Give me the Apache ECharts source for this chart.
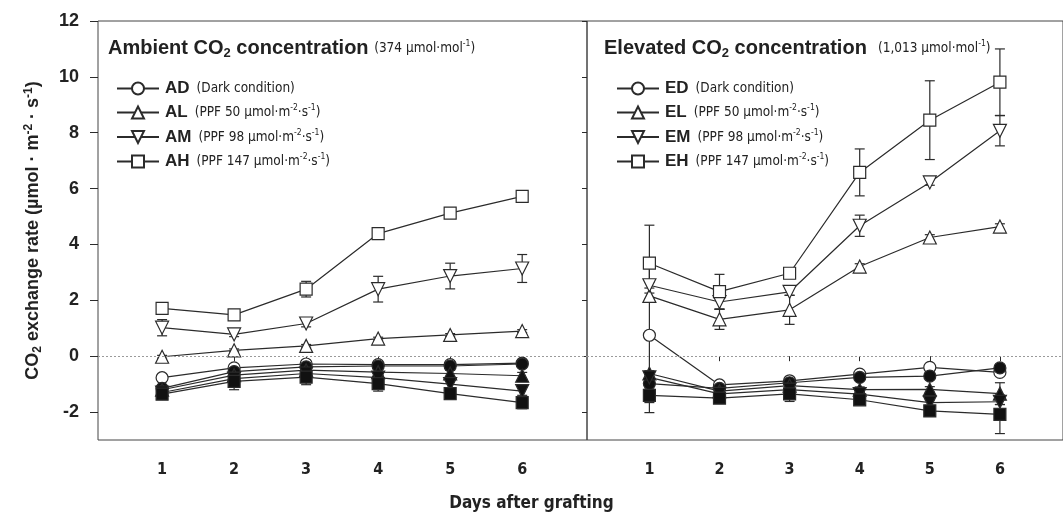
<!DOCTYPE html>
<html><head><meta charset="utf-8">
<script src="https://cdn.jsdelivr.net/npm/echarts@6/dist/echarts.min.js"></script>
<style>html,body{margin:0;padding:0;background:#fff}#c{width:1063px;height:513px}</style>
</head><body><div id="c"></div>
<script>
// ---------- data ----------
const days = [1, 2, 3, 4, 5, 6];
const yTicks = [-2, 0, 2, 4, 6, 8, 10, 12];

// Ambient CO2 panel (open symbols: light treatments)
const AD = [-0.77, -0.42, -0.28, -0.30, -0.30, -0.25];
const AL = [-0.02, 0.21, 0.37, 0.63, 0.76, 0.90];
const AM = [1.02, 0.78, 1.17, 2.40, 2.87, 3.14];
const AH = [1.71, 1.48, 2.40, 4.39, 5.12, 5.72];
const AD_err = [0.08, 0.08, 0.06, 0.06, 0.06, 0.06];
const AL_err = [0.05, 0.05, 0.05, 0.05, 0.05, 0.05];
const AM_err = [0.29, 0.08, 0.12, 0.46, 0.46, 0.50];
const AH_err = [0.08, 0.08, 0.28, 0.15, 0.10, 0.10];
// Ambient panel, closed symbols
const ADf = [-1.15, -0.55, -0.38, -0.35, -0.35, -0.28];
const ALf = [-1.20, -0.68, -0.50, -0.57, -0.62, -0.70];
const AMf = [-1.30, -0.80, -0.62, -0.77, -1.00, -1.25];
const AHf = [-1.36, -0.90, -0.75, -0.98, -1.34, -1.66];
const ADf_err = [0.10, 0.12, 0.10, 0.10, 0.10, 0.10];
const ALf_err = [0.10, 0.12, 0.12, 0.12, 0.12, 0.12];
const AMf_err = [0.12, 0.15, 0.15, 0.15, 0.15, 0.15];
const AHf_err = [0.12, 0.30, 0.27, 0.27, 0.18, 0.22];

// Elevated CO2 panel (open symbols)
const ED = [0.75, -1.03, -0.88, -0.64, -0.40, -0.58];
const EL = [2.16, 1.32, 1.66, 3.21, 4.25, 4.64];
const EM = [2.54, 1.94, 2.30, 4.67, 6.22, 8.07];
const EH = [3.33, 2.31, 2.97, 6.58, 8.45, 9.81];
const ED_err = [2.77, 0.08, 0.08, 0.08, 0.08, 0.10];
const EL_err = [0.10, 0.36, 0.52, 0.10, 0.10, 0.10];
const EM_err = [0.10, 0.26, 0.12, 0.38, 0.10, 0.54];
const EH_err = [1.36, 0.62, 0.10, 0.84, 1.41, 1.19];
// Elevated panel, closed symbols
const EDf = [-0.98, -1.15, -0.95, -0.76, -0.71, -0.42];
const ELf = [-0.62, -1.25, -1.05, -1.20, -1.19, -1.34];
const EMf = [-0.76, -1.35, -1.20, -1.36, -1.66, -1.63];
const EHf = [-1.40, -1.50, -1.35, -1.56, -1.96, -2.08];
const EDf_err = [0.10, 0.10, 0.10, 0.10, 0.10, 0.10];
const ELf_err = [0.10, 0.10, 0.10, 0.10, 0.10, 0.39];
const EMf_err = [0.10, 0.10, 0.10, 0.10, 0.10, 0.10];
const EHf_err = [0.26, 0.10, 0.27, 0.10, 0.12, 0.69];

const legendCodesA = ['AD', 'AL', 'AM', 'AH'];
const legendCodesE = ['ED', 'EL', 'EM', 'EH'];
const legendPPF = [null, '50', '98', '147'];

// ---------- styling ----------
const INK = '#2b2b2b';
const FONT = '"Liberation Sans", Arial, sans-serif';
const NARROW = '"Liberation Sans Narrow", "DejaVu Sans Condensed", "Arial Narrow", "Liberation Sans", sans-serif';
const DOWN = 'path://M0,0L20,0L10,17Z';
const symbols = ['circle', 'triangle', DOWN, 'rect'];
const sizes = [12, 13, 13, 12];

function lineSeries(name, vals, idx, filled, g) {
  return {
    type: 'line', name: name, xAxisIndex: g, yAxisIndex: g,
    data: days.map((d, i) => [d, vals[i]]),
    symbol: symbols[idx], symbolSize: sizes[idx], showSymbol: true,
    color: INK,
    lineStyle: { color: INK, width: 1.2 },
    itemStyle: { color: filled ? '#111' : '#fff', borderColor: INK, borderWidth: 1.2, opacity: 1 },
    z: filled ? 4 : 3, animation: false, emphasis: { disabled: true }
  };
}
function errSeries(vals, errs, g) {
  return {
    type: 'custom', xAxisIndex: g, yAxisIndex: g, z: 1, animation: false, silent: true,
    data: days.map((d, i) => [d, vals[i], errs[i]]),
    renderItem: function (params, api) {
      const x = api.value(0), y = api.value(1), e = api.value(2);
      const t = api.coord([x, y + e]), b = api.coord([x, y - e]);
      const w = 5, st = { stroke: INK, lineWidth: 1.2 };
      return { type: 'group', children: [
        { type: 'line', shape: { x1: t[0], y1: t[1], x2: b[0], y2: b[1] }, style: st },
        { type: 'line', shape: { x1: t[0] - w, y1: t[1], x2: t[0] + w, y2: t[1] }, style: st },
        { type: 'line', shape: { x1: b[0] - w, y1: b[1], x2: b[0] + w, y2: b[1] }, style: st }
      ] };
    }
  };
}

const richSmall = {
  c: { fontFamily: FONT, fontWeight: 'bold', fontSize: 17, color: '#222', lineHeight: 18, padding: [0, 7, 0, 1] },
  d: { fontFamily: NARROW, fontWeight: 'normal', fontSize: 13.5, color: '#222', lineHeight: 18 },
  sup: { fontFamily: NARROW, fontWeight: 'normal', fontSize: 8.5, color: '#222', lineHeight: 8, padding: [0, 0, 9, 0] }
};
function legendLabel(code, i) {
  if (legendPPF[i] === null) return '{c|' + code + '}{d|(Dark condition)}';
  return '{c|' + code + '}{d|(PPF ' + legendPPF[i] + ' µmol·m}{sup|-2}{d|·s}{sup|-1}{d|)}';
}
const fmtA = name => legendLabel(name, legendCodesA.indexOf(name));
const fmtE = name => legendLabel(name, legendCodesE.indexOf(name));

const panels = [
  { open: [AD, AL, AM, AH], openErr: [AD_err, AL_err, AM_err, AH_err],
    closed: [ADf, ALf, AMf, AHf], closedErr: [ADf_err, ALf_err, AMf_err, AHf_err], codes: legendCodesA },
  { open: [ED, EL, EM, EH], openErr: [ED_err, EL_err, EM_err, EH_err],
    closed: [EDf, ELf, EMf, EHf], closedErr: [EDf_err, ELf_err, EMf_err, EHf_err], codes: legendCodesE }
];

const series = [];
panels.forEach((p, g) => {
  p.open.forEach((v, i) => series.push(errSeries(v, p.openErr[i], g)));
  p.closed.forEach((v, i) => series.push(errSeries(v, p.closedErr[i], g)));
  p.open.forEach((v, i) => series.push(lineSeries(p.codes[i], v, i, false, g)));
  p.closed.forEach((v, i) => series.push(lineSeries(p.codes[i] + ' (closed)', v, i, true, g)));
});
// dotted zero reference line in each panel
series.filter(s => s.type === 'line' && (s.name === 'AD' || s.name === 'ED')).forEach(s => {
  s.markLine = { silent: true, symbol: 'none', animation: false, label: { show: false },
    lineStyle: { type: [2, 2], color: '#9a9a9a', width: 1 }, data: [{ yAxis: 0 }] };
});

const titleRich = {
  b: { fontFamily: FONT, fontWeight: 'bold', fontSize: 20, color: '#222', lineHeight: 24 },
  bs: { fontFamily: FONT, fontWeight: 'bold', fontSize: 13, color: '#222', lineHeight: 13, padding: [11, 0, 0, 0] },
  s: { fontFamily: NARROW, fontWeight: 'normal', fontSize: 13.5, color: '#222', lineHeight: 24 },
  sup: { fontFamily: NARROW, fontWeight: 'normal', fontSize: 8.5, color: '#222', lineHeight: 8, padding: [0, 0, 8, 0] }
};

const xAxisBase = {
  type: 'value', min: 0.11, max: 6.9,
  axisLine: { show: false }, splitLine: { show: false },
  axisTick: { show: true, length: 5, lineStyle: { color: INK }, customValues: days },
  axisLabel: { show: true, customValues: days, margin: 22, fontFamily: NARROW, fontWeight: 'bold', fontSize: 16, color: '#222' }
};

const option = {
  backgroundColor: '#fff',
  animation: false,
  grid: [
    { left: 98, top: 21, width: 489, height: 419, show: true, borderColor: '#444', borderWidth: 1 },
    { left: 587, top: 21, width: 489, height: 419, show: true, borderColor: '#444', borderWidth: 1 }
  ],
  xAxis: [Object.assign({ gridIndex: 0 }, xAxisBase), Object.assign({ gridIndex: 1 }, xAxisBase)],
  yAxis: [
    { type: 'value', gridIndex: 0, min: -3, max: 12,
      axisLine: { show: false }, splitLine: { show: false },
      axisTick: { show: true, length: 8, lineStyle: { color: INK }, customValues: yTicks },
      axisLabel: { show: true, customValues: yTicks, margin: 19, fontFamily: FONT, fontWeight: 'bold', fontSize: 18, color: '#222' },
      name: '{t|CO}{ts|2}{t| exchange rate (µmol · m}{tp|-2}{t| · s}{tp|-1}{t|)}',
      nameLocation: 'middle', nameRotate: 90, nameGap: 54,
      nameTextStyle: { rich: {
        t: { fontFamily: FONT, fontWeight: 'bold', fontSize: 18, color: '#222', lineHeight: 22 },
        ts: { fontFamily: FONT, fontWeight: 'bold', fontSize: 12, color: '#222', lineHeight: 12, padding: [10, 0, 0, 0] },
        tp: { fontFamily: FONT, fontWeight: 'bold', fontSize: 12, color: '#222', lineHeight: 12, padding: [0, 0, 9, 0] }
      } } },
    { type: 'value', gridIndex: 1, min: -3, max: 12,
      axisLine: { show: false }, splitLine: { show: false },
      axisTick: { show: true, length: 5, lineStyle: { color: INK }, customValues: yTicks },
      axisLabel: { show: false } }
  ],
  title: [
    { left: 103, top: 31, text: '{b|Ambient CO}{bs|2}{b| concentration }{s|(374 µmol·mol}{sup|-1}{s|)}', textStyle: { rich: titleRich } },
    { left: 599, top: 31, text: '{b|Elevated CO}{bs|2}{b| concentration  }{s|(1,013 µmol·mol}{sup|-1}{s|)}', textStyle: { rich: titleRich } }
  ],
  legend: [
    { data: legendCodesA, left: 111, top: 75, orient: 'vertical', itemWidth: 42, itemHeight: 15, itemGap: 6.5,
      formatter: fmtA, textStyle: { rich: richSmall }, selectedMode: false },
    { data: legendCodesE, left: 611, top: 75, orient: 'vertical', itemWidth: 42, itemHeight: 15, itemGap: 6.5,
      formatter: fmtE, textStyle: { rich: richSmall }, selectedMode: false }
  ],
  graphic: [
    { type: 'text', left: 'center', top: 495, style: { text: 'Days after grafting', font: 'bold 17px ' + NARROW, fill: '#222' } }
  ],
  series: series
};

const chart = echarts.init(document.getElementById('c'), null, { renderer: 'canvas' });
chart.setOption(option);
</script>
</body></html>
